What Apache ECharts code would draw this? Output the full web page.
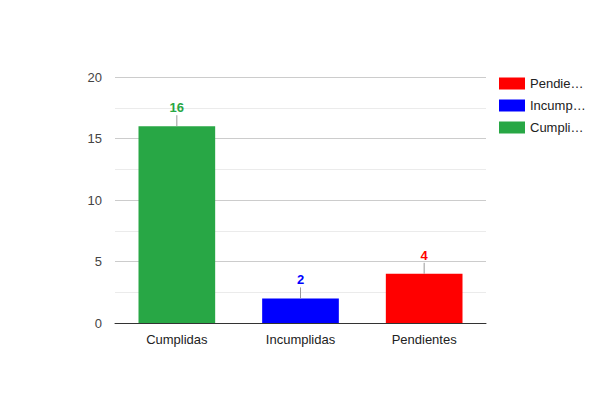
<!DOCTYPE html>
<html><head><meta charset="utf-8">
<script src="https://cdn.jsdelivr.net/npm/echarts@6/dist/echarts.min.js"></script>
<style>html,body{margin:0;padding:0;background:#fff}#c{width:600px;height:400px}</style>
</head><body><div id="c"></div>
<script>
const categories = ['Cumplidas', 'Incumplidas', 'Pendientes'];
const cumplidas = [16, null, null];
const incumplidas = [null, 2, null];
const pendientes = [null, null, 4];
const totals = [16, 2, 4];
const colors = ['#28a745', '#0000ff', '#ff0000'];
const legendOrder = ['Pendientes', 'Incumplidas', 'Cumplidas'];
const yTicks = {min: 0, max: 20, interval: 5};

const chart = echarts.init(document.getElementById('c'), null, {renderer: 'svg'});
const font = 'Arial, "Liberation Sans", sans-serif';
function barSeries(name, data, color) {
  return {name, type: 'bar', stack: 'all', data, barWidth: '62%',
    itemStyle: {color}, emphasis: {disabled: true}, silent: true};
}
chart.setOption({
  animation: false,
  textStyle: {fontFamily: font},
  grid: {left: 115, right: 114, top: 77, bottom: 77, containLabel: false},
  legend: {
    orient: 'vertical', left: 499, top: 77, padding: 0, itemWidth: 26, itemHeight: 12, itemGap: 9,
    data: legendOrder, selectedMode: false, icon: 'rect',
    textStyle: {fontSize: 13, color: '#222', fontFamily: font, width: 58, overflow: 'truncate', ellipsis: '…'}
  },
  xAxis: {
    type: 'category', data: categories,
    axisLine: {lineStyle: {color: '#333'}}, axisTick: {show: false},
    axisLabel: {color: '#222', fontSize: 13, margin: 10, fontFamily: font}
  },
  yAxis: {
    type: 'value', min: yTicks.min, max: yTicks.max, interval: yTicks.interval,
    axisLine: {show: false}, axisTick: {show: false},
    axisLabel: {color: '#444', fontSize: 13, margin: 13, fontFamily: font},
    splitLine: {lineStyle: {color: '#cccccc'}},
    minorTick: {show: false, splitNumber: 2},
    minorSplitLine: {show: true, lineStyle: {color: '#ebebeb'}}
  },
  series: [
    barSeries('Cumplidas', cumplidas, colors[0]),
    barSeries('Incumplidas', incumplidas, colors[1]),
    barSeries('Pendientes', pendientes, colors[2]),
    {
      type: 'custom', silent: true, z: 10,
      data: totals.map((v, i) => [i, v]),
      renderItem: function (params, api) {
        const i = api.value(0), v = api.value(1);
        const p = api.coord([i, v]);
        return {type: 'group', children: [
          {type: 'line', shape: {x1: p[0], y1: p[1], x2: p[0], y2: p[1] - 11},
            style: {stroke: '#999', lineWidth: 1}},
          {type: 'text', style: {text: String(v), x: p[0], y: p[1] - 12,
            align: 'center', verticalAlign: 'bottom', fill: colors[i],
            font: 'bold 13px ' + font}}
        ]};
      }
    }
  ]
});
</script></body></html>
